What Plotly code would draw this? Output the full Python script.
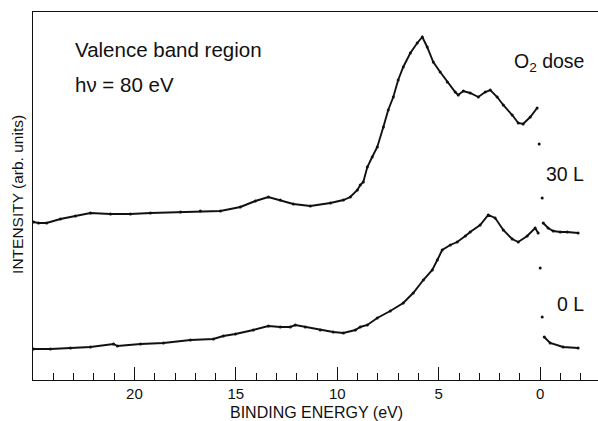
import plotly.graph_objects as go

# ---- data (binding energy in eV, intensity in arbitrary units) ----
# 30 L O2 dose (upper spectrum); None marks gaps around the Fermi edge
e_30L = [24.98, 24.73, 24.33, 23.65, 22.91, 22.17, 21.18, 20.20, 19.21, 17.73,
         16.75, 15.76, 14.78, 14.04, 13.40, 12.81, 12.17, 11.33, 10.34, 9.70,
         9.36, 9.01, 8.87, 8.72, 8.52, 8.28, 8.03, 7.73, 7.49, 7.24,
         7.00, 6.75, 6.40, 6.06, 5.81, 5.57, 5.27, 4.93, 4.58, 4.19,
         4.04, 3.79, 3.45, 3.05, 2.71, 2.46, 2.12, 1.82, 1.38, 1.08,
         0.84, 0.49, 0.15, None, 0.05, None, -0.10, None, -0.15, -0.39, -0.64,
         -0.99, -1.33, -1.87]
i_30L = [158, 157, 157, 161, 164, 167, 166, 166, 167, 168,
         169, 169, 173, 179, 183, 180, 176, 174, 177, 180,
         183, 190, 195, 198, 213, 223, 233, 253, 270, 283,
         300, 313, 327, 337, 343, 333, 318, 308, 298, 288,
         285, 289, 287, 283, 288, 290, 283, 275, 265, 257,
         256, 263, 272, None, 236, None, 182, None, 157, 152, 149,
         148, 148, 147]

# 0 L (clean surface, lower spectrum)
e_0L = [24.98, 24.14, 23.15, 22.17, 21.03, 20.84, 19.70, 18.57, 17.24, 16.11,
        15.62, 15.02, 14.14, 13.40, 12.81, 12.32, 12.07, 11.58, 10.84, 10.20,
        9.70, 9.11, 8.87, 8.52, 8.03, 7.39, 6.75, 6.26, 5.76, 5.32,
        5.07, 4.83, 4.43, 4.09, 3.69, 3.45, 2.96, 2.56, 2.22, 1.82,
        1.38, 1.08, 0.64, 0.25, 0.10, None, 0.00, None, -0.10, None, -0.20,
        -0.49, -1.13, -1.87]
i_0L = [31, 31, 32, 33, 36, 34, 36, 37, 40, 41,
        44, 46, 50, 54, 53, 53, 55, 53, 50, 48,
        47, 50, 53, 55, 62, 69, 77, 87, 100, 110,
        120, 130, 135, 138, 144, 148, 155, 165, 162, 150,
        141, 138, 144, 152, 147, None, 112, None, 63, None, 43,
        37, 33, 32]

x_range = [25.0, -2.85]
y_range = [0, 368]
hidden_tick_labels = {"25": ""}   # the edge tick at 25 eV carries no label

INK = "#111111"
FONT = "Liberation Sans, Arial, Helvetica, sans-serif"

fig = go.Figure()
for e, i in ((e_30L, i_30L), (e_0L, i_0L)):
    fig.add_trace(go.Scatter(
        x=e, y=i, mode="lines+markers", connectgaps=False,
        line=dict(color=INK, width=1.9),
        marker=dict(color=INK, size=3),
        hoverinfo="skip", showlegend=False))

fig.update_layout(
    width=598, height=421,
    margin=dict(l=33, r=0, t=12, b=41),
    paper_bgcolor="white", plot_bgcolor="white",
    font=dict(family=FONT, color=INK, size=15),
    showlegend=False,
)
fig.update_xaxes(
    range=x_range, autorange=False,
    showgrid=False, zeroline=False,
    showline=True, linecolor=INK, linewidth=1.4, mirror=True,
    tickmode="linear", tick0=0, dtick=5, labelalias=hidden_tick_labels,
    ticks="inside", ticklen=13, tickwidth=1.3, tickcolor=INK,
    tickfont=dict(size=15, family=FONT, color=INK),
    minor=dict(tickmode="linear", tick0=0, dtick=1, ticks="inside",
               ticklen=7, tickwidth=1.2, tickcolor=INK, showgrid=False),
)
fig.update_yaxes(
    range=y_range, autorange=False,
    showgrid=False, zeroline=False,
    showline=True, linecolor=INK, linewidth=1.4,
    showticklabels=False, ticks="",
)

ann = dict(xref="paper", yref="paper", showarrow=False,
           font=dict(family=FONT, color=INK))
fig.add_annotation(ann, text="Valence band region", x=0.0708, y=0.897,
                   xanchor="left", yanchor="middle", font_size=20.5)
fig.add_annotation(ann, text="hν = 80 eV", x=0.0708, y=0.804,
                   xanchor="left", yanchor="middle", font_size=20.5)
fig.add_annotation(ann, text="O<sub>2</sub> dose", x=0.979, y=0.862,
                   xanchor="right", yanchor="middle", font_size=19.5)
fig.add_annotation(ann, text="30 L", x=0.979, y=0.560,
                   xanchor="right", yanchor="middle", font_size=19.5)
fig.add_annotation(ann, text="0 L", x=0.979, y=0.207,
                   xanchor="right", yanchor="middle", font_size=19.5)
fig.add_annotation(ann, text="BINDING ENERGY (eV)", x=0.501, y=-0.087,
                   xanchor="center", yanchor="middle", font_size=16)
fig.add_annotation(ann, text="INTENSITY (arb. units)", x=-0.0265, y=0.503,
                   xanchor="center", yanchor="middle", textangle=-90,
                   font_size=15.5)

fig.write_html("out.html")
